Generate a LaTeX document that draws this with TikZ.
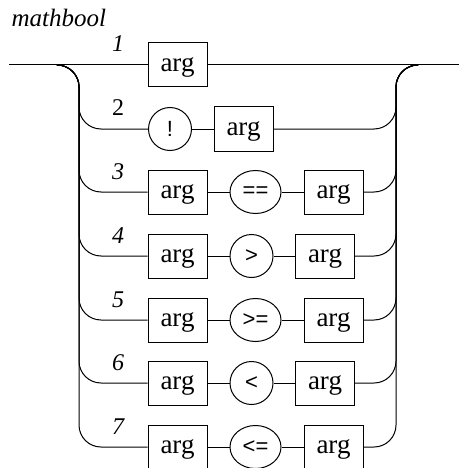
\documentclass[tikz,border=0pt]{standalone}
\usepackage{fontspec}
\setmainfont{Liberation Serif}
\newfontfamily\opfont{Liberation Sans}
\usetikzlibrary{shapes.geometric}

\begin{document}
\begin{tikzpicture}[
  x=1pt,y=-1pt,
  nt/.style={rectangle,draw,line width=1pt,minimum width=59pt,minimum height=44pt,
    inner sep=0pt,text height=18pt,text depth=5pt,font=\fontsize{27}{31}\selectfont},
  tc/.style={circle,draw,line width=1pt,minimum size=43pt,inner sep=0pt,
    font=\opfont\fontsize{22}{26}\selectfont},
  te/.style={ellipse,draw,line width=1pt,minimum width=51pt,minimum height=43pt,
    inner sep=0pt,font=\opfont\fontsize{22}{26}\selectfont},
  num/.style={anchor=base,font=\itshape\fontsize{24}{28}\selectfont},
  rail/.style={line width=1pt,rounded corners=22pt}
]
\useasboundingbox (0,0) rectangle (459,468);
\node[anchor=base west,font=\itshape\fontsize{25}{29}\selectfont] (title) at (8,27) {mathbool};
% end points and split points
\coordinate (in) at (9,65);
\coordinate (out) at (459,65);
\coordinate (sl) at (57,65);
\coordinate (sr) at (418,65);
% row 1
\node[nt] (a1) at (177.5,65) {arg};
\node[num] (n1) at (118,52) {1};
\draw[rail] (in) -- (a1) -- (out);
% row 2
\node[tc] (t2) at (170,129) {!};
\node[nt] (a2) at (243.5,129) {arg};
\node[num,font=\fontsize{24}{28}\selectfont] (n2) at (118,116) {2};
\coordinate (l2) at (79,129);
\coordinate (r2) at (396,129);
\draw[rail] (sl) -| (l2) -- (t2);
\draw[rail] (t2) -- (a2);
\draw[rail] (a2) -- (r2) |- (sr);
% row 3
\node[nt] (a3) at (177.5,192) {arg};
\node[te] (t3) at (255.5,192) {==};
\node[nt] (b3) at (333.5,192) {arg};
\node[num] (n3) at (118,179) {3};
\coordinate (l3) at (79,192);
\coordinate (r3) at (396,192);
\draw[rail] (sl) -| (l3) -- (a3);
\draw[rail] (a3) -- (t3) -- (b3);
\draw[rail] (b3) -- (r3) |- (sr);
% row 4
\node[nt] (a4) at (177.5,256) {arg};
\node[tc] (t4) at (251.5,256) {>};
\node[nt] (b4) at (325,256) {arg};
\node[num] (n4) at (118,243) {4};
\coordinate (l4) at (79,256);
\coordinate (r4) at (396,256);
\draw[rail] (sl) -| (l4) -- (a4);
\draw[rail] (a4) -- (t4) -- (b4);
\draw[rail] (b4) -- (r4) |- (sr);
% row 5
\node[nt] (a5) at (177.5,320) {arg};
\node[te] (t5) at (255.5,320) {>=};
\node[nt] (b5) at (333.5,320) {arg};
\node[num] (n5) at (118,307) {5};
\coordinate (l5) at (79,320);
\coordinate (r5) at (396,320);
\draw[rail] (sl) -| (l5) -- (a5);
\draw[rail] (a5) -- (t5) -- (b5);
\draw[rail] (b5) -- (r5) |- (sr);
% row 6
\node[nt] (a6) at (177.5,383) {arg};
\node[tc] (t6) at (251.5,383) {<};
\node[nt] (b6) at (325,383) {arg};
\node[num] (n6) at (118,370) {6};
\coordinate (l6) at (79,383);
\coordinate (r6) at (396,383);
\draw[rail] (sl) -| (l6) -- (a6);
\draw[rail] (a6) -- (t6) -- (b6);
\draw[rail] (b6) -- (r6) |- (sr);
% row 7
\node[nt] (a7) at (177.5,447) {arg};
\node[te] (t7) at (255.5,447) {<=};
\node[nt] (b7) at (333.5,447) {arg};
\node[num] (n7) at (118,434) {7};
\coordinate (l7) at (79,447);
\coordinate (r7) at (396,447);
\draw[rail] (sl) -| (l7) -- (a7);
\draw[rail] (a7) -- (t7) -- (b7);
\draw[rail] (b7) -- (r7) |- (sr);
\end{tikzpicture}
\end{document}
